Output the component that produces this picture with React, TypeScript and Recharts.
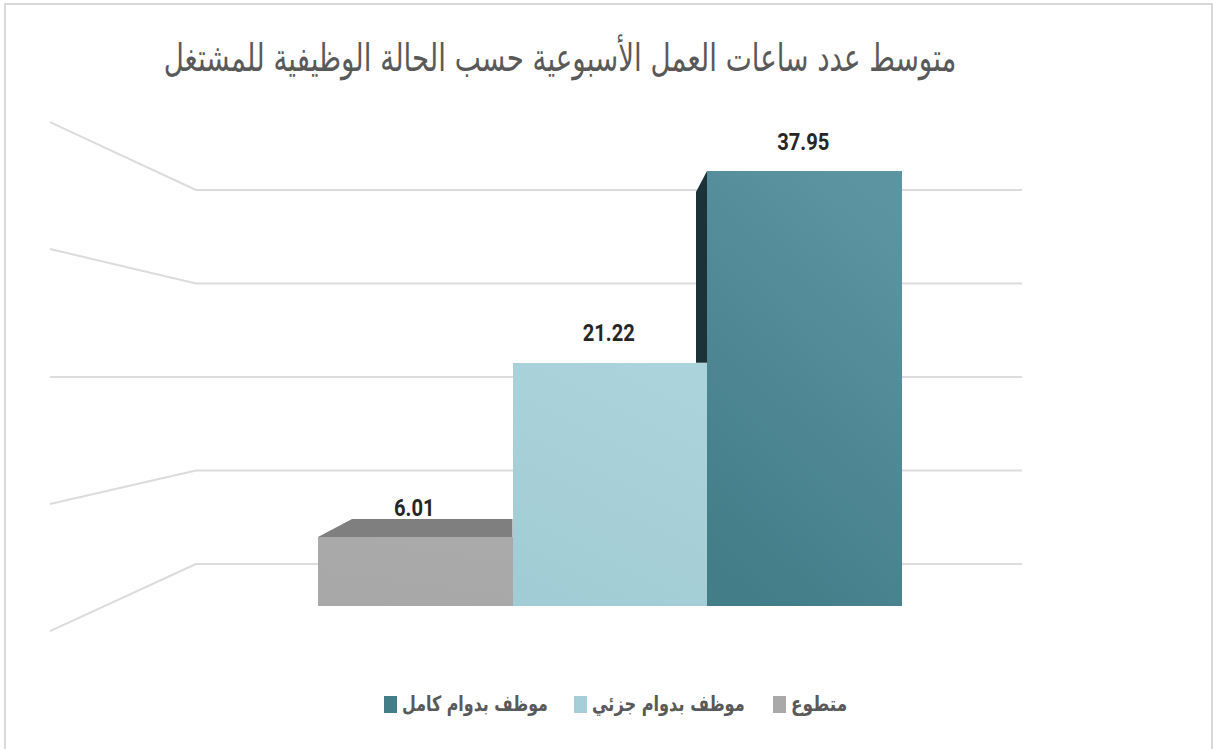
import React from 'react';
import { Bar, BarChart, LabelList, Legend, ReferenceLine, XAxis, YAxis } from 'recharts';

const title = 'متوسط عدد ساعات العمل الأسبوعية حسب الحالة الوظيفية للمشتغل';

// series, left to right
const seriesKeys = ['volunteer', 'partTime', 'fullTime'];
const seriesNames = ['متطوع', 'موظف بدوام جزئي', 'موظف بدوام كامل'];
const seriesValues = [6.01, 21.22, 37.95];
const seriesColors = ['#a9a9a9', '#a5cfd7', '#437d88'];

// back wall gridlines and where each one lands on the left side wall
const wallTicks = [0, 10, 20, 30, 40];
const sideWallValues = [-7.17, 6.42, 20, 33.69, 47.27];

const CHART_W = 1215;
const CHART_H = 749;
const WALL_BACK = 146;
const WALL_RIGHT = 972;

const chartData = [
  seriesKeys.reduce<Record<string, string | number>>(
    (row, key, i) => {
      row[key] = seriesValues[i];
      return row;
    },
    { category: 'hours' }
  ),
];

const gradients = [
  ['#aaaaaa', '#a8a8a8'],
  ['#abd3db', '#a2ccd5'],
  ['#5c94a1', '#437d88'],
];

// front face plus the visible top or side face of the fake 3D column
const makeColumn = (index: number) => (props: any) => {
  const { x, y, width, height } = props;
  const bottom = y + height;
  const perUnit = height / seriesValues[index];
  return (
    <g>
      {index === 0 && (
        <polygon
          points={`${x},${y} ${x + 34},${y - 18} ${x + width},${y - 18} ${x + width},${y}`}
          fill="#7f7f7f"
        />
      )}
      {index === 2 && (
        <polygon
          points={`${x},${y} ${x - 11},${y + 21} ${x - 11},${bottom - seriesValues[1] * perUnit} ${x},${bottom - seriesValues[1] * perUnit}`}
          fill="#1b3338"
        />
      )}
      <rect
        x={x}
        y={y}
        width={width}
        height={height}
        fill={`url(#column-${index})`}
        shapeRendering="crispEdges"
      />
    </g>
  );
};

// value label squeezed to look like the narrow bold face of the original
const ValueLabel = ({ x, y, width, value }: any) => (
  <text
    transform={`translate(${x + width / 2 - 1},${y - 30}) scale(0.84,1)`}
    textAnchor="middle"
    dominantBaseline="central"
    fontFamily="Roboto"
    fontWeight={700}
    fontSize={24}
    fill="#262626"
  >
    {Number(value).toFixed(2)}
  </text>
);

const legendLefts = [384, 574, 773];
const legendStretch = [0.84, 0.855, 0.9];

const ChartLegend = ({ payload }: any) => (
  <div>
    {[...(payload || [])].reverse().map((item: any, i: number) => (
      <div
        key={item.value}
        style={{
          position: 'absolute',
          left: legendLefts[i],
          top: 0,
          display: 'flex',
          alignItems: 'center',
          height: 24,
          whiteSpace: 'nowrap',
        }}
      >
        <span style={{ width: 13, height: 17, background: item.color, marginRight: 5 }} />
        <span
          dir="rtl"
          style={{
            display: 'inline-block',
            transform: `scaleX(${legendStretch[i]})`,
            transformOrigin: 'left center',
            fontFamily: '"DejaVu Sans Condensed", "DejaVu Sans"',
            fontWeight: 700,
            fontSize: 21,
            color: '#595959',
          }}
        >
          {item.value}
        </span>
      </div>
    ))}
  </div>
);

export default function App() {
  return (
    <div
      style={{
        position: 'fixed',
        left: 0,
        top: 0,
        width: CHART_W,
        height: CHART_H,
        background: '#fff',
        overflow: 'hidden',
      }}
    >
      <div
        style={{
          position: 'absolute',
          left: 4,
          top: 3,
          width: 1205,
          height: 760,
          border: '2px solid #d9d9d9',
        }}
      />
      <div
        dir="rtl"
        style={{
          position: 'absolute',
          left: 0,
          top: 33,
          width: 1120,
          textAlign: 'center',
          fontFamily: '"DejaVu Sans Condensed", "DejaVu Sans"',
          fontSize: 38,
          lineHeight: '50px',
          color: '#595959',
          whiteSpace: 'nowrap',
          transform: 'scaleX(0.81)',
        }}
      >
        {title}
      </div>
      <BarChart
        width={CHART_W}
        height={CHART_H}
        data={chartData}
        margin={{ top: 110, right: 193, bottom: 109, left: 50 }}
        barCategoryGap={0}
        barGap={0}
        barSize={194.5}
      >
        <defs>
          {gradients.map(([top, bottom], i) => (
            <linearGradient key={i} id={`column-${i}`} x1="0.7" y1="0" x2="0.3" y2="1">
              <stop offset="0%" stopColor={top} />
              <stop offset="100%" stopColor={bottom} />
            </linearGradient>
          ))}
        </defs>
        <XAxis dataKey="category" hide padding={{ left: 268, right: 120 }} />
        <XAxis
          xAxisId="wall"
          dataKey="wallX"
          type="number"
          hide
          domain={[0, WALL_RIGHT]}
          allowDataOverflow
        />
        <YAxis hide domain={[-2.967, 43.28]} allowDataOverflow />
        <YAxis yAxisId="wall" hide domain={[-8.128, 48.56]} allowDataOverflow />
        {wallTicks.map((tick) => (
          <ReferenceLine
            key={`back-${tick}`}
            xAxisId="wall"
            yAxisId="wall"
            stroke="#dcdcdc"
            strokeWidth={2}
            zIndex={-50}
            segment={[
              { x: WALL_BACK, y: tick },
              { x: WALL_RIGHT, y: tick },
            ]}
          />
        ))}
        {wallTicks.map((tick, i) => (
          <ReferenceLine
            key={`side-${tick}`}
            xAxisId="wall"
            yAxisId="wall"
            stroke="#dcdcdc"
            strokeWidth={2}
            zIndex={-50}
            segment={[
              { x: 0, y: sideWallValues[i] },
              { x: WALL_BACK, y: tick },
            ]}
          />
        ))}
        {seriesKeys.map((key, i) => (
          <Bar
            key={key}
            dataKey={key}
            name={seriesNames[i]}
            fill={seriesColors[i]}
            shape={makeColumn(i)}
            isAnimationActive={false}
          >
            <LabelList dataKey={key} content={<ValueLabel />} />
          </Bar>
        ))}
        <Legend
          layout="horizontal"
          verticalAlign="middle"
          align="center"
          content={<ChartLegend />}
          wrapperStyle={{ top: 692, left: 0, width: CHART_W, height: 24 }}
        />
      </BarChart>
    </div>
  );
}
